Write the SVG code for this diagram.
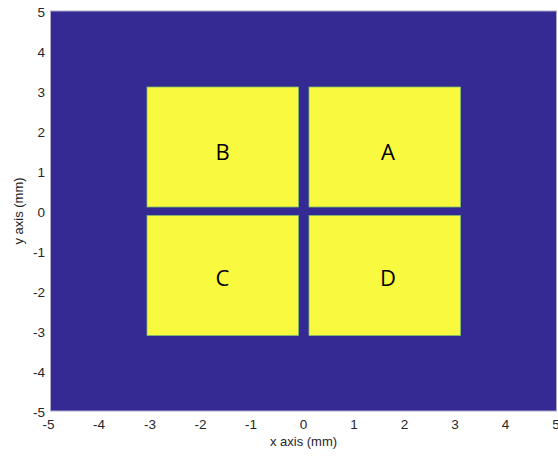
<svg xmlns="http://www.w3.org/2000/svg" width="558" height="458" viewBox="0 0 558 458">
<style>
.tick{font-family:"Liberation Sans",Arial,sans-serif;font-size:13.5px;fill:#262626}
.ax{font-family:"Liberation Sans",Arial,sans-serif;font-size:13px;fill:#262626}
.pad rect{fill:#F9FA40;stroke:#7DBE6A;stroke-width:0.8}
.lbl{font-family:"Open Sans","Liberation Sans",sans-serif;font-size:22px;fill:#000;text-anchor:middle}
</style>
<rect width="558" height="458" fill="#fff"/>
<rect x="50.5" y="11" width="506" height="400" fill="#352A94" stroke="#B0AACB" stroke-width="1"/>
<g id="B" class="pad"><rect x="147" y="87" width="151.5" height="120"/><text class="lbl" x="222.5" y="160">B</text></g>
<g id="A" class="pad"><rect x="309" y="87" width="151.5" height="120"/><text class="lbl" x="388" y="160">A</text></g>
<g id="C" class="pad"><rect x="147" y="215.5" width="151.5" height="120"/><text class="lbl" x="222.5" y="286">C</text></g>
<g id="D" class="pad"><rect x="309" y="215.5" width="151.5" height="120"/><text class="lbl" x="388" y="286">D</text></g>
<g id="connectors"></g>
<g class="tick" text-anchor="end">
<text x="45" y="17">5</text>
<text x="45" y="57">4</text>
<text x="45" y="97">3</text>
<text x="45" y="137">2</text>
<text x="45" y="177">1</text>
<text x="45" y="217">0</text>
<text x="45" y="257">-1</text>
<text x="45" y="297">-2</text>
<text x="45" y="337">-3</text>
<text x="45" y="377">-4</text>
<text x="45" y="417">-5</text>
</g>
<g class="tick" text-anchor="middle">
<text x="48.5" y="429">-5</text>
<text x="99" y="429">-4</text>
<text x="150" y="429">-3</text>
<text x="200.5" y="429">-2</text>
<text x="251" y="429">-1</text>
<text x="303.5" y="429">0</text>
<text x="354" y="429">1</text>
<text x="404.5" y="429">2</text>
<text x="455" y="429">3</text>
<text x="505.5" y="429">4</text>
<text x="556" y="429">5</text>
</g>
<text class="ax" x="303.5" y="446" text-anchor="middle">x axis (mm)</text>
<text class="ax" transform="translate(23,211) rotate(-90)" text-anchor="middle">y axis (mm)</text>
</svg>
